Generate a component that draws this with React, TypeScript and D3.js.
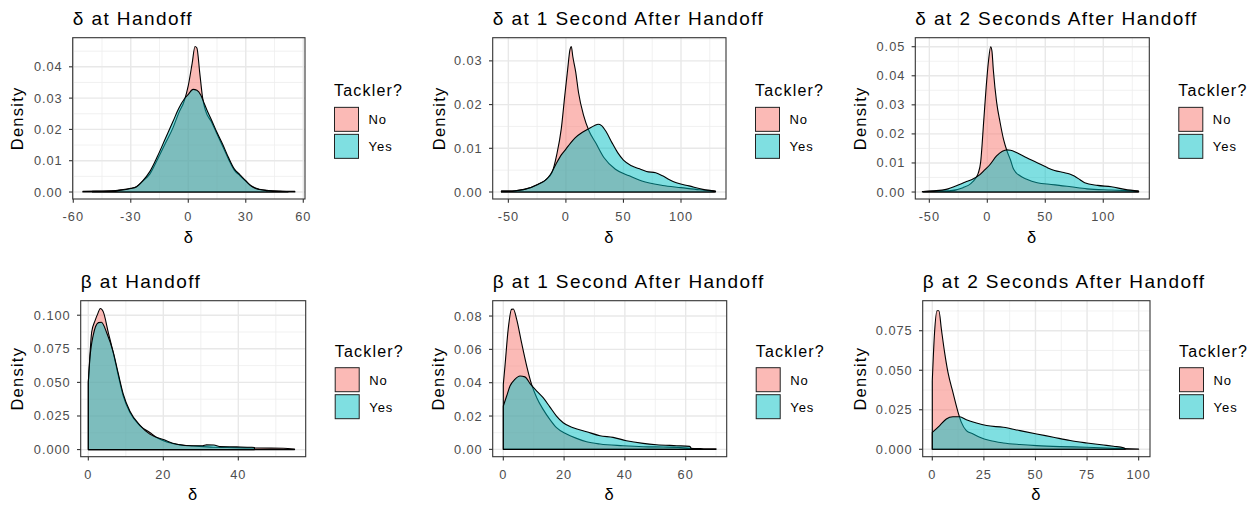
import React from 'react';
import * as d3 from 'd3';

type Pt = [number, number];

// density estimates: [value, density]
const deltaHandoffNo: Pt[] = [
  [-55, 0.0002], [-48, 0.0003], [-40, 0.0004], [-35, 0.0007], [-30, 0.0012], [-27, 0.0017],
  [-24, 0.0033], [-20, 0.0058], [-16, 0.0105], [-12, 0.0155], [-8, 0.0205], [-5, 0.0252],
  [-2, 0.0293], [0, 0.034], [2, 0.041], [3.5, 0.0465], [4.5, 0.046], [6, 0.038], [7.5, 0.030],
  [9, 0.026], [12, 0.0225], [15, 0.0185], [18, 0.0145], [21, 0.0105], [24, 0.007], [27, 0.0052],
  [30, 0.0035], [33, 0.0019], [37, 0.0009], [42, 0.0005], [48, 0.0003], [55.6, 0.0002],
];
const deltaHandoffYes: Pt[] = [
  [-50, 0.0002], [-40, 0.0003], [-35, 0.0006], [-30, 0.0011], [-27, 0.0017], [-24, 0.0034],
  [-20, 0.0066], [-16, 0.0115], [-12, 0.017], [-8, 0.0225], [-5, 0.0267], [-2, 0.0298],
  [0, 0.0312], [2.5, 0.0328], [4.5, 0.0325], [6.5, 0.031], [8, 0.0288], [10, 0.0258],
  [12, 0.0232], [15, 0.019], [18, 0.0152], [21, 0.011], [24, 0.0074], [27, 0.0055], [30, 0.0036],
  [33, 0.0018], [37, 0.0008], [42, 0.0004], [47, 0.0002], [52, 0.0001],
];

const delta1sNo: Pt[] = [
  [-56, 0.0002], [-44, 0.0003], [-36, 0.0006], [-24, 0.0018], [-17, 0.0029], [-12, 0.0045],
  [-8, 0.0085], [-4, 0.0145], [-1, 0.022], [1.5, 0.028], [3.5, 0.0325], [4.7, 0.0333], [6, 0.031],
  [8.5, 0.0275], [11, 0.0227], [15.5, 0.0174], [20, 0.014], [26, 0.0112], [33, 0.0079],
  [43, 0.0052], [55, 0.0037], [66, 0.0025], [84, 0.0015], [100, 0.001], [116, 0.0005], [129, 0.0002],
];
const delta1sYes: Pt[] = [
  [-56, 0.0002], [-44, 0.0003], [-36, 0.0006], [-24, 0.0018], [-17, 0.0029], [-13.5, 0.004],
  [-9, 0.0062], [-4, 0.0085], [0, 0.0098], [4, 0.0112], [8, 0.0124], [14, 0.0136], [20, 0.0145],
  [25, 0.0152], [28, 0.0155], [31, 0.0152], [35, 0.0138], [40, 0.0113], [45, 0.009], [50, 0.0073],
  [57, 0.006], [64, 0.0053], [70, 0.0047], [78, 0.0044], [84, 0.0037], [90, 0.0028], [96, 0.0021],
  [107, 0.0014], [119, 0.0006], [130, 0.0002],
];

const delta2sNo: Pt[] = [
  [-56, 0.0002], [-45, 0.0003], [-33, 0.0004], [-21, 0.0015], [-14, 0.003], [-10.5, 0.0045],
  [-7.8, 0.0065], [-5.8, 0.0101], [-3, 0.025], [-1, 0.036], [1, 0.045], [2.9, 0.05], [4, 0.0485],
  [5.2, 0.042], [8, 0.031], [11, 0.024], [14, 0.0181], [17, 0.0141], [20, 0.011], [22.7, 0.0078],
  [28.5, 0.0055], [34, 0.0044], [43, 0.0032], [55, 0.0026], [62, 0.0023], [72, 0.0018],
  [86, 0.0011], [107, 0.0007], [130, 0.0003],
];
const delta2sYes: Pt[] = [
  [-55, 0.0002], [-46, 0.0004], [-35.5, 0.0009], [-24, 0.0026], [-18, 0.0036], [-12, 0.0046],
  [-6.4, 0.006], [-2, 0.0077], [2, 0.0093], [8, 0.0124], [13, 0.014], [17, 0.0145], [20, 0.0144],
  [25.6, 0.0135], [34, 0.0118], [43, 0.0101], [51.7, 0.0084], [58, 0.0074], [66, 0.0067],
  [71, 0.0062], [75, 0.0055], [80, 0.0042], [84, 0.0032], [95, 0.0023], [107, 0.0018],
  [118.6, 0.0009], [130.5, 0.0003],
];

const betaHandoffNo: Pt[] = [
  [0, 0.05], [0.4, 0.069], [0.9, 0.0875], [1.8, 0.096], [2.5, 0.101], [3.2, 0.105], [4, 0.1025],
  [5.3, 0.0875], [6.7, 0.0715], [8, 0.055], [9.3, 0.040], [11.1, 0.0275], [13.8, 0.0177],
  [16.4, 0.0127], [18.2, 0.009], [20.9, 0.0057], [24.4, 0.0035], [28, 0.0027], [30.7, 0.0022],
  [33.3, 0.0017], [36.9, 0.0015], [44, 0.0012], [52, 0.001], [55, 0.0004],
];
const betaHandoffYes: Pt[] = [
  [0, 0.05], [0.4, 0.067], [1.3, 0.085], [2.7, 0.0945], [3.5, 0.0948], [4.9, 0.087], [6.7, 0.072],
  [8, 0.0565], [9.3, 0.0415], [11.1, 0.0285], [13.8, 0.018], [16.4, 0.0115], [20, 0.0075],
  [23.6, 0.004], [28, 0.0028], [30.5, 0.0028], [31.5, 0.0035], [33.5, 0.0034], [35, 0.0022],
  [39.6, 0.002], [43.6, 0.0017], [44.3, 0.0015],
];

const beta1sNo: Pt[] = [
  [0, 0.039], [0.55, 0.050], [1.6, 0.072], [2.7, 0.084], [3.3, 0.0842], [4.4, 0.078], [6, 0.064],
  [7.7, 0.050], [9.3, 0.039], [11, 0.031], [13.1, 0.024], [15.3, 0.018], [17.5, 0.013],
  [20.8, 0.0092], [24.1, 0.0066], [27.4, 0.0046], [31.8, 0.0032], [39.4, 0.0022], [46, 0.0016],
  [52.6, 0.0014], [57.5, 0.0012], [61.3, 0.0006], [66, 0.0004], [70, 0.0003],
];
const beta1sYes: Pt[] = [
  [0, 0.026], [1.1, 0.032], [2.2, 0.038], [3.8, 0.042], [5.5, 0.044], [7.1, 0.0435], [8.8, 0.0395],
  [11, 0.035], [13.1, 0.031], [15.3, 0.0255], [17.5, 0.020], [19.7, 0.016], [23, 0.013],
  [27.4, 0.0106], [31.8, 0.0082], [36.1, 0.0072], [40.5, 0.0052], [46, 0.0036], [50.4, 0.0028],
  [57, 0.0022], [61.3, 0.0018], [61.8, 0.0006],
];

const beta2sNo: Pt[] = [
  [0, 0.0434], [1.1, 0.074], [2.3, 0.0876], [3.2, 0.0876], [4.4, 0.076], [6, 0.061], [7.6, 0.0486],
  [10, 0.036], [12.5, 0.0234], [14.1, 0.017], [16.5, 0.0118], [19.8, 0.0097], [23, 0.0076],
  [27.9, 0.0055], [34.4, 0.004], [42.5, 0.003], [50.6, 0.0023], [61.9, 0.0017], [74.9, 0.0013],
  [85, 0.0008], [92.7, 0.0004], [100, 0.0002],
];
const beta2sYes: Pt[] = [
  [0, 0.0107], [3.6, 0.015], [6.8, 0.0192], [10, 0.0206], [13.3, 0.0206], [16.5, 0.0187],
  [21.4, 0.0166], [26.3, 0.015], [34.4, 0.0139], [42.5, 0.0118], [50.6, 0.0097], [58.7, 0.0076],
  [66.8, 0.0055], [74.9, 0.004], [83, 0.0027], [87.8, 0.0019], [92.7, 0.001], [93.5, 0.0004],
];

const titles = [
  'δ at Handoff', 'δ at 1 Second After Handoff', 'δ at 2 Seconds After Handoff',
  'β at Handoff', 'β at 1 Second After Handoff', 'β at 2 Seconds After Handoff',
];
const groups = ['No', 'Yes'];
const groupColors = ['#F8766D', '#00BFC4'];
const legendTitle = 'Tackler?';
const xTitle = 'δ';
const yTitle = 'Density';

const xTicksHandoff = [-60, -30, 0, 30, 60];
const xTicksAfter = [-50, 0, 50, 100];
const xTicksBeta0 = [0, 20, 40];
const xTicksBeta1 = [0, 20, 40, 60];
const xTicksBeta2 = [0, 25, 50, 75, 100];
const yTicks1 = [0, 0.01, 0.02, 0.03, 0.04];
const yTicks2 = [0, 0.01, 0.02, 0.03];
const yTicks3 = [0, 0.01, 0.02, 0.03, 0.04, 0.05];
const yTicks4 = [0, 0.025, 0.05, 0.075, 0.1];
const yTicks5 = [0, 0.02, 0.04, 0.06, 0.08];
const yTicks6 = [0, 0.025, 0.05, 0.075];

const FONT = '"Liberation Sans", Arial, sans-serif';
const LS = '0.075em';

const panels = [
  { title: titles[0], series: [deltaHandoffNo, deltaHandoffYes], xTicks: xTicksHandoff, yTicks: yTicks1, fmt: '.2f',
    l: 72.7, r: 305, t: 37.7, b: 199, xd: [-60.3, 60.9], yd: [-0.00223, 0.0493], yTitleX: 23 },
  { title: titles[1], series: [delta1sNo, delta1sYes], xTicks: xTicksAfter, yTicks: yTicks2, fmt: '.2f',
    l: 492.7, r: 726, t: 37.7, b: 199, xd: [-63.6, 139.1], yd: [-0.0016, 0.0353], yTitleX: 444.5 },
  { title: titles[2], series: [delta2sNo, delta2sYes], xTicks: xTicksAfter, yTicks: yTicks3, fmt: '.2f',
    l: 915.3, r: 1149.3, t: 37.7, b: 199, xd: [-62.1, 139.7], yd: [-0.0024, 0.0531], yTitleX: 866 },
  { title: titles[3], series: [betaHandoffNo, betaHandoffYes], xTicks: xTicksBeta0, yTicks: yTicks4, fmt: '.3f',
    l: 80.7, r: 305.7, t: 300.7, b: 456.7, xd: [-2.03, 57.97], yd: [-0.0053, 0.1108], yTitleX: 23 },
  { title: titles[4], series: [beta1sNo, beta1sYes], xTicks: xTicksBeta1, yTicks: yTicks5, fmt: '.2f',
    l: 492.7, r: 726.7, t: 300.7, b: 456.7, xd: [-3.49, 73.5], yd: [-0.0044, 0.0892], yTitleX: 444.4 },
  { title: titles[5], series: [beta2sNo, beta2sYes], xTicks: xTicksBeta2, yTicks: yTicks6, fmt: '.3f',
    l: 922.7, r: 1150, t: 300.7, b: 456.7, xd: [-4.65, 105.5], yd: [-0.0047, 0.094], yTitleX: 866 },
];

// minor breaks: midpoints, plus one step beyond each end if it still falls inside the panel
function minor(ticks: number[], domain: number[]) {
  const step = ticks[1] - ticks[0];
  const out: number[] = [];
  for (let v = ticks[0] - step / 2; v <= ticks[ticks.length - 1] + step / 2 + 1e-9; v += step) {
    if (v > domain[0] && v < domain[1]) out.push(v);
  }
  return out;
}

function Panel({ p }: { p: any }) {
  const x = d3.scaleLinear().domain(p.xd).range([p.l, p.r]);
  const y = d3.scaleLinear().domain(p.yd).range([p.b, p.t]);
  const area = d3.area<Pt>()
    .x(d => x(d[0]))
    .y0(y(0))
    .y1(d => y(d[1]))
    .curve(d3.curveMonotoneX);
  const fmt = d3.format(p.fmt);
  const cy = (p.t + p.b) / 2;
  const lx = p.r + 29;

  return (
    <g>
      <text x={p.l} y={p.t - 12.7} fontSize={19} fontFamily={FONT} letterSpacing={LS} fill="#000">
        {p.title}
      </text>

      {minor(p.xTicks, p.xd).map(v => (
        <line key={'xm' + v} x1={x(v)} x2={x(v)} y1={p.t} y2={p.b} stroke="#EDEDED" strokeWidth={0.8} />
      ))}
      {minor(p.yTicks, p.yd).map(v => (
        <line key={'ym' + v} x1={p.l} x2={p.r} y1={y(v)} y2={y(v)} stroke="#EDEDED" strokeWidth={0.8} />
      ))}
      {p.xTicks.map((v: number) => (
        <line key={'xg' + v} x1={x(v)} x2={x(v)} y1={p.t} y2={p.b} stroke="#E8E8E8" strokeWidth={1.4} />
      ))}
      {p.yTicks.map((v: number) => (
        <line key={'yg' + v} x1={p.l} x2={p.r} y1={y(v)} y2={y(v)} stroke="#E8E8E8" strokeWidth={1.4} />
      ))}

      {p.series.map((s: Pt[], i: number) => (
        <path key={i} d={area(s) || ''} fill={groupColors[i]} fillOpacity={0.5}
          stroke="#000" strokeWidth={1.1} strokeLinejoin="round" />
      ))}

      <rect x={p.l} y={p.t} width={p.r - p.l} height={p.b - p.t} fill="none" stroke="#333" strokeWidth={1.1} />

      {p.xTicks.map((v: number) => (
        <g key={'xt' + v}>
          <line x1={x(v)} x2={x(v)} y1={p.b} y2={p.b + 3.7} stroke="#333" strokeWidth={1.1} />
          <text x={x(v)} y={p.b + 22.3} textAnchor="middle" fontSize={12.8} fontFamily={FONT}
            letterSpacing={LS} fill="#4D4D4D">{v}</text>
        </g>
      ))}
      {p.yTicks.map((v: number) => (
        <g key={'yt' + v}>
          <line x1={p.l - 3.7} x2={p.l} y1={y(v)} y2={y(v)} stroke="#333" strokeWidth={1.1} />
          <text x={p.l - 10} y={y(v) + 4.5} textAnchor="end" fontSize={12.8} fontFamily={FONT}
            letterSpacing={LS} fill="#4D4D4D">{fmt(v)}</text>
        </g>
      ))}

      <text x={(p.l + p.r) / 2} y={p.b + 43.5} textAnchor="middle" fontSize={16.5} fontFamily={FONT}
        letterSpacing={LS} fill="#000">{xTitle}</text>
      <text transform={`translate(${p.yTitleX},${cy}) rotate(-90)`} textAnchor="middle" fontSize={16.5}
        fontFamily={FONT} letterSpacing={LS} fill="#000">{yTitle}</text>

      <text x={lx} y={cy - 22} fontSize={16} fontFamily={FONT} letterSpacing={LS} fill="#000">{legendTitle}</text>
      {groups.map((g, i) => {
        const ky = cy - 11 + i * 27;
        return (
          <g key={g}>
            <rect x={lx + 0.5} y={ky} width={24} height={24} fill={groupColors[i]} fillOpacity={0.5}
              stroke="#222" strokeWidth={1} />
            <text x={lx + 34.5} y={ky + 12 + 5} fontSize={13} fontFamily={FONT} letterSpacing={LS}
              fill="#000">{g}</text>
          </g>
        );
      })}
    </g>
  );
}

export default function App() {
  return (
    <svg width={1256} height={505} style={{ position: 'absolute', left: 0, top: 0 }}>
      <rect width={1256} height={505} fill="#fff" />
      {panels.map((p, i) => <Panel key={i} p={p} />)}
    </svg>
  );
}
